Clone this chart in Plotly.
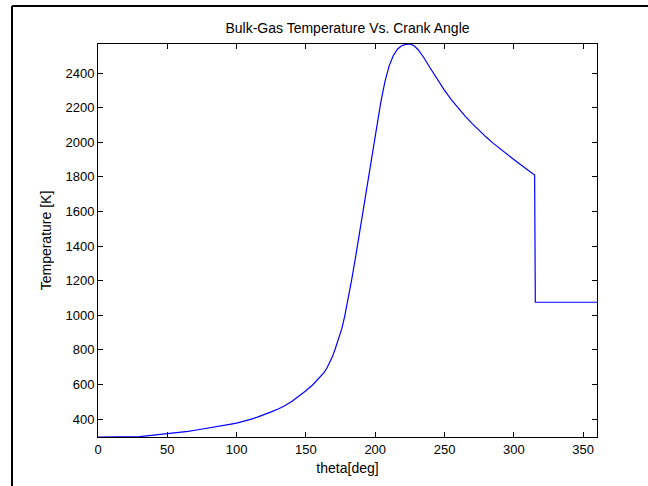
import plotly.graph_objects as go

theta = [0, 5, 10, 15, 20, 25, 30, 35, 40, 45, 50, 55, 60, 65, 70, 75, 80, 85, 90, 95,
         100, 105, 110, 115, 120, 125, 130, 135, 140, 145, 150, 155, 160, 163, 165, 167,
         169, 171, 173, 175, 176, 178, 180, 183, 186, 189, 192, 195, 198, 201, 204, 207,
         210, 213, 216, 219, 222, 225, 228, 231, 235, 240, 245, 250, 255, 260, 265, 270,
         275, 280, 285, 290, 295, 300, 305, 310, 315, 315.5, 320, 330, 340, 350, 360]
temp = [296, 296, 296, 296, 296, 296, 298, 302, 306, 310, 315, 319, 324, 329, 335, 341,
        348, 355, 362, 369, 376, 386, 398, 411, 425, 441, 458, 478, 503, 532, 563, 598,
        640, 668, 692, 722, 758, 802, 852, 895, 925, 995, 1075, 1205, 1345, 1493, 1645,
        1800, 1950, 2095, 2230, 2350, 2440, 2500, 2538, 2558, 2566, 2568, 2558, 2535,
        2490, 2425, 2360, 2300, 2245, 2195, 2150, 2108, 2068, 2030, 1995, 1962, 1930,
        1900, 1870, 1840, 1810, 1075, 1075, 1075, 1075, 1075, 1075]

title_text = "Bulk-Gas Temperature Vs. Crank Angle"
x_label = "theta[deg]"
y_label = "Temperature [K]"
x_ticks = [0, 50, 100, 150, 200, 250, 300, 350]
y_ticks = [400, 600, 800, 1000, 1200, 1400, 1600, 1800, 2000, 2200, 2400]

fig = go.Figure()
fig.add_trace(go.Scatter(x=theta, y=temp, mode="lines",
                         line=dict(color="#0000ff", width=1.2), showlegend=False))

family = "Liberation Sans, Arial, sans-serif"
tick_font = dict(family=family, size=13, color="black")
label_font = dict(family=family, size=14, color="black")
axis_common = dict(showline=True, linecolor="black", linewidth=1, mirror="allticks",
                   ticks="inside", ticklen=5, tickcolor="black", showgrid=False,
                   zeroline=False, tickfont=tick_font)

fig.update_layout(
    width=648, height=486,
    margin=dict(l=98, r=51, t=44, b=49),
    paper_bgcolor="white", plot_bgcolor="white",
    font=tick_font,
    title=dict(text=title_text, x=0.5, xref="paper",
               y=(486 - 28) / 486, yanchor="middle", font=label_font),
)
fig.update_xaxes(range=[0, 360], tickvals=x_ticks,
                 title=dict(text=x_label, standoff=7, font=label_font), **axis_common)
fig.update_yaxes(range=[296, 2568], tickvals=y_ticks,
                 title=dict(text=y_label, standoff=10, font=label_font), **axis_common)

# outer figure border (only left and top edges fall inside the picture)
bx0 = (12 - 98) / 499
bx1 = (648 - 98) / 499
by0 = (437 - 486) / 393
by1 = (437 - 6) / 393
fig.add_shape(type="line", xref="paper", yref="paper",
              x0=bx0, x1=bx0, y0=by0, y1=by1,
              line=dict(color="black", width=2), layer="below")
fig.add_shape(type="line", xref="paper", yref="paper",
              x0=bx0, x1=bx1, y0=by1, y1=by1,
              line=dict(color="black", width=2), layer="below")

fig.write_html("out.html")
